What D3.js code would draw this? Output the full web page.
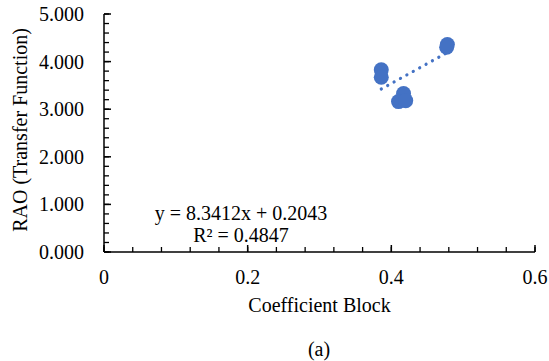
<!DOCTYPE html>
<html><head><meta charset="utf-8">
<script src="https://cdn.jsdelivr.net/npm/d3@7"></script>
<style>body{margin:0;background:#fff}svg{display:block}</style>
</head><body><svg id="c" width="549" height="361" font-family="'Liberation Serif', 'Times New Roman', Times, serif"></svg>
<script>
const xValues = [0.478, 0.477, 0.386, 0.386, 0.417, 0.410, 0.420];
const yValues = [4.36, 4.30, 3.83, 3.67, 3.33, 3.16, 3.18];
const xTicks = [0, 0.2, 0.4, 0.6];
const yTicks = [0, 1, 2, 3, 4, 5];
const slope = 8.3412, intercept = 0.2043;
const eqText = "y = 8.3412x + 0.2043";
const r2Text = "R² = 0.4847";
const xTitle = "Coefficient Block", yTitle = "RAO (Transfer Function)", caption = "(a)";

const svg = d3.select("#c");
const x = d3.scaleLinear().domain([0, 0.6]).range([104, 535]);
const y = d3.scaleLinear().domain([0, 5]).range([252, 14]);
const fs = 20;
const FF = "'Liberation Serif', 'Times New Roman', Times, serif";

const xMinor = d3.range(0, 0.6001, 0.04);
const yMinor = d3.range(0, 5.001, 0.2);
const g = svg.append("g").attr("stroke", "#000");
g.selectAll(".xm").data(xMinor).join("line")
  .attr("x1", d => x(d)).attr("x2", d => x(d)).attr("y1", y(0)).attr("y2", y(0) - 5).attr("stroke-width", 1.3);
g.selectAll(".xM").data(xTicks).join("line")
  .attr("x1", d => x(d)).attr("x2", d => x(d)).attr("y1", y(0)).attr("y2", y(0) - 7).attr("stroke-width", 1.5);
g.selectAll(".ym").data(yMinor).join("line")
  .attr("y1", d => y(d)).attr("y2", d => y(d)).attr("x1", x(0)).attr("x2", x(0) + 5).attr("stroke-width", 1.3);
g.selectAll(".yM").data(yTicks).join("line")
  .attr("y1", d => y(d)).attr("y2", d => y(d)).attr("x1", x(0)).attr("x2", x(0) + 7).attr("stroke-width", 1.5);
g.append("line").attr("x1", x(0)).attr("x2", x(0.6)).attr("y1", y(0)).attr("y2", y(0)).attr("stroke-width", 1.5);
g.append("line").attr("x1", x(0)).attr("x2", x(0)).attr("y1", y(0)).attr("y2", y(5)).attr("stroke-width", 1.5);

function txt(sel) { return sel.attr("font-family", FF).attr("font-size", fs).attr("fill", "#000"); }

txt(svg.selectAll(".xl").data(xTicks).join("text"))
  .attr("x", d => x(d)).attr("y", 284).attr("text-anchor", "middle")
  .text(d => d === 0 ? "0" : d3.format(".1f")(d));
txt(svg.selectAll(".yl").data(yTicks).join("text"))
  .attr("x", 84).attr("y", d => y(d) + 7).attr("text-anchor", "end")
  .text(d => d3.format(".3f")(d));

txt(svg.append("text")).attr("x", (x(0) + x(0.6)) / 2).attr("y", 312).attr("text-anchor", "middle").text(xTitle);
txt(svg.append("text")).attr("transform", "translate(27,130) rotate(-90)").attr("text-anchor", "middle").text(yTitle);
txt(svg.append("text")).attr("x", 319).attr("y", 356).attr("text-anchor", "middle").text(caption);

svg.selectAll(".pt").data(xValues).join("circle")
  .attr("cx", d => x(d)).attr("cy", (d, i) => y(yValues[i])).attr("r", 7.5).attr("fill", "#4472C4");

const xmin = d3.min(xValues), xmax = d3.max(xValues);
svg.append("line")
  .attr("x1", x(xmin)).attr("y1", y(slope * xmin + intercept))
  .attr("x2", x(xmax)).attr("y2", y(slope * xmax + intercept))
  .attr("stroke", "#4472C4").attr("stroke-width", 3.2).attr("stroke-linecap", "round").attr("stroke-dasharray", "0.1 7.2");

txt(svg.append("text")).attr("x", 241).attr("y", 220).attr("text-anchor", "middle").text(eqText);
txt(svg.append("text")).attr("x", 241).attr("y", 242).attr("text-anchor", "middle").text(r2Text);
</script></body></html>
